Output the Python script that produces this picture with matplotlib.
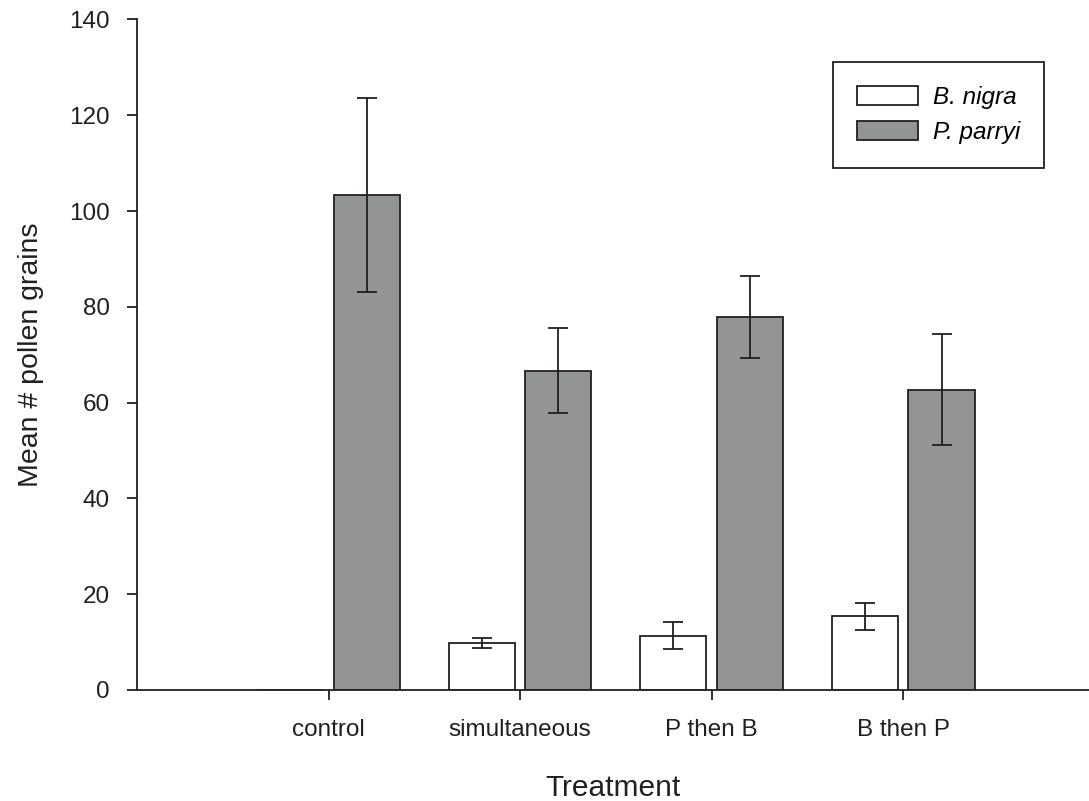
import numpy as np
import matplotlib.pyplot as plt

# data
treatments = ['control', 'simultaneous', 'P then B', 'B then P']
nigra_mean = [np.nan, 9.9, 11.3, 15.4]
nigra_err = [np.nan, 1.05, 2.8, 2.85]
parryi_mean = [103.4, 66.7, 77.9, 62.7]
parryi_err = [20.2, 8.9, 8.5, 11.6]

plt.rcParams['font.family'] = ['Liberation Sans', 'DejaVu Sans']

fig = plt.figure(figsize=(10.89, 8.01), dpi=100)
ax = fig.add_axes([0.1258, 0.1386, 0.8742, 0.8371])

x = np.arange(len(treatments))
width = 0.345
offset = 0.2
edge = '#231f20'
err_kw = dict(fmt='none', ecolor=edge, elinewidth=1.3, capsize=7.5, capthick=1.3)

nm = np.nan_to_num(nigra_mean)
ax.bar(x - offset, nm, width, color='white', edgecolor=edge, linewidth=1.3,
       label='B. nigra', zorder=2)
ax.bar(x + offset, parryi_mean, width, color='#939496', edgecolor=edge, linewidth=1.3,
       label='P. parryi', zorder=2)

ok = ~np.isnan(nigra_mean)
ax.errorbar((x - offset)[ok], np.array(nigra_mean)[ok], yerr=np.array(nigra_err)[ok],
            zorder=3, **err_kw)
ax.errorbar(x + offset, parryi_mean, yerr=parryi_err, zorder=3, **err_kw)

ax.set_xlim(-1.0, 3.97)
ax.set_ylim(0, 140)
ax.set_yticks(np.arange(0, 141, 20))
ax.set_xticks(x)
ax.set_xticklabels(treatments)

for s in ['top', 'right']:
    ax.spines[s].set_visible(False)
for s in ['left', 'bottom']:
    ax.spines[s].set_linewidth(1.3)
    ax.spines[s].set_color(edge)

ax.tick_params(axis='y', direction='out', length=7.5, width=1.3, color=edge,
               labelsize=17.5, pad=12, labelcolor=edge)
ax.tick_params(axis='x', direction='out', length=7, width=1.3, color=edge,
               labelsize=17.5, pad=14, labelcolor=edge)

ax.set_xlabel('Treatment', fontsize=21.5, labelpad=24, color=edge)
ax.set_ylabel('Mean # pollen grains', fontsize=20.5, labelpad=18, color=edge)

leg = ax.legend(loc='upper right', bbox_to_anchor=(0.953, 0.937), borderaxespad=0,
                prop={'style': 'italic', 'size': 17.5}, frameon=True, fancybox=False,
                framealpha=1, handlelength=2.5, handleheight=0.8, borderpad=1.0,
                labelspacing=0.5, handletextpad=0.6)
leg.get_frame().set_edgecolor(edge)
leg.get_frame().set_linewidth(1.3)

fig.savefig('out.png', dpi=100)
